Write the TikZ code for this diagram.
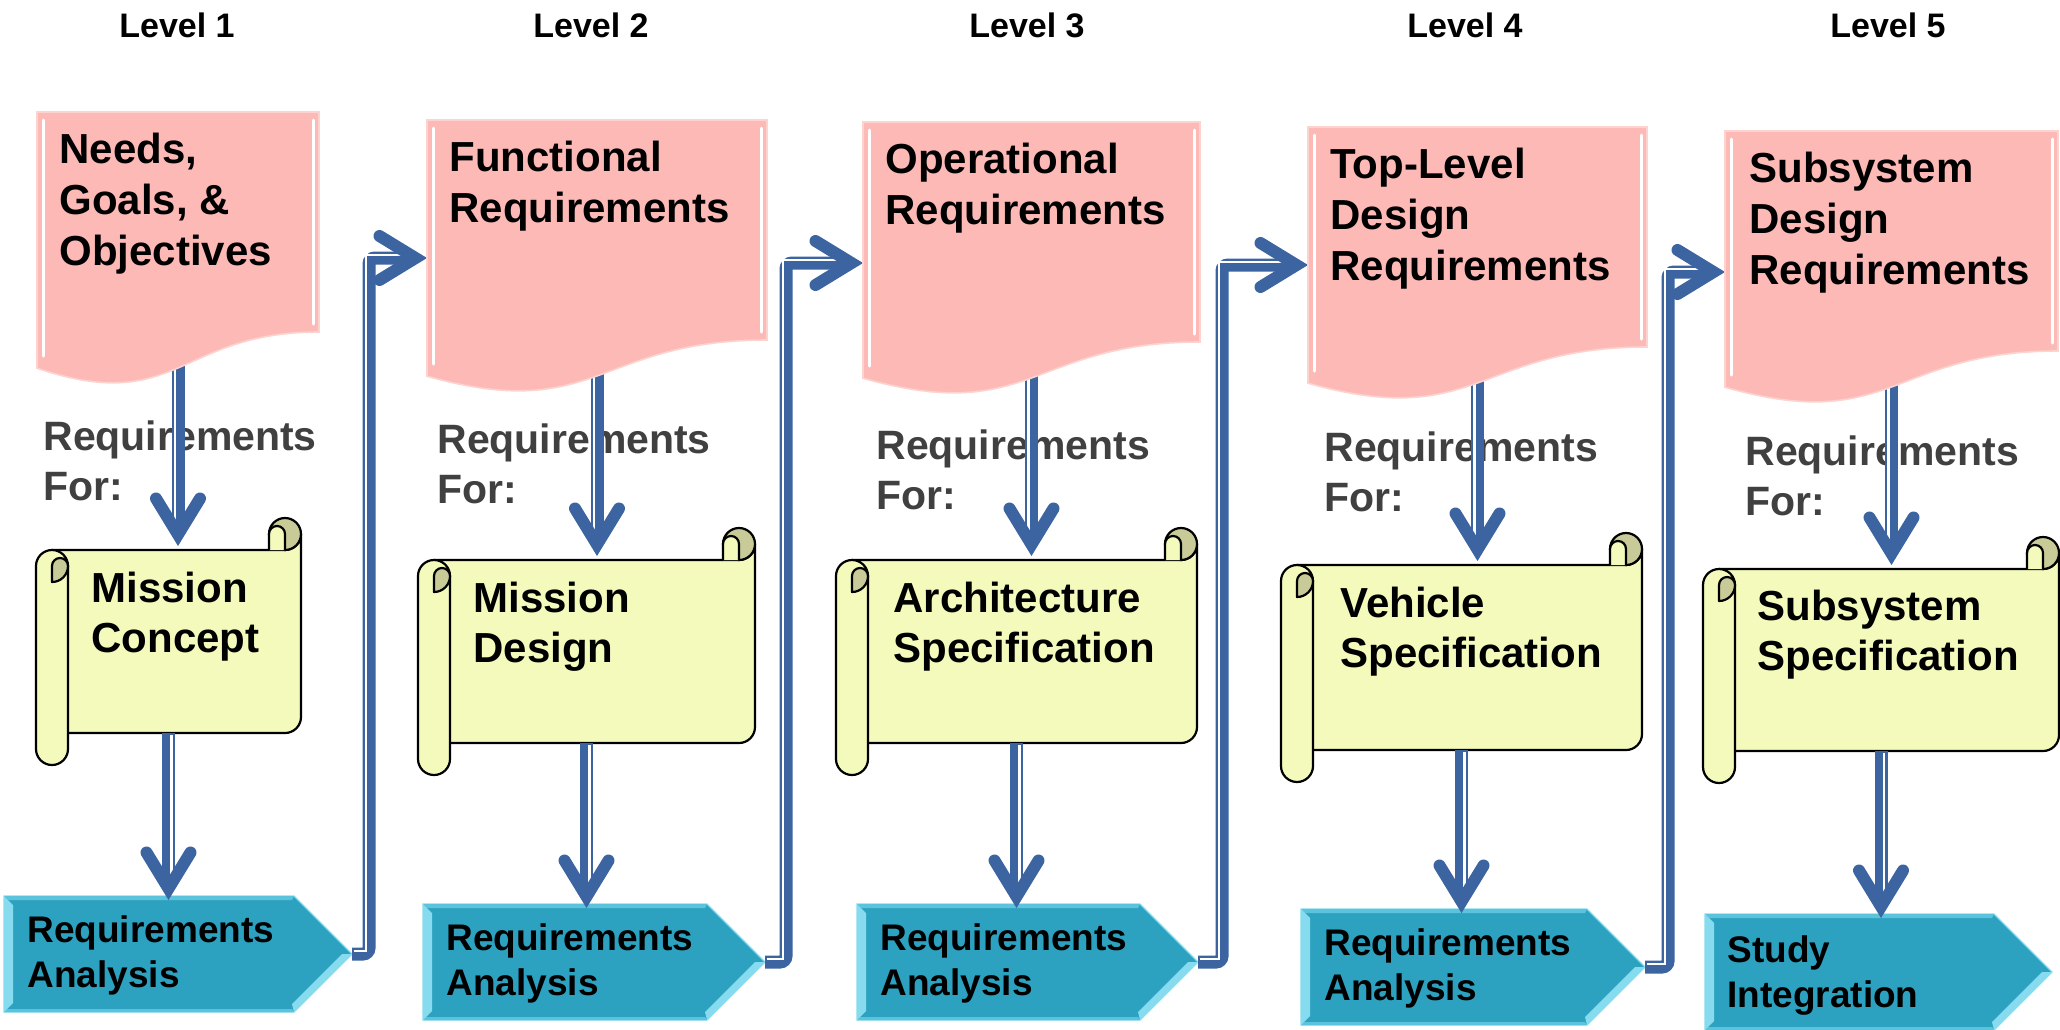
\documentclass[tikz,border=0pt]{standalone}
\usepackage{fontspec}
\setmainfont{Liberation Sans}
\usetikzlibrary{calc,fit}
\definecolor{docpink}{HTML}{FCB9B5}
\definecolor{docedge}{HTML}{FDD3D0}
\definecolor{scrolly}{HTML}{F4FABC}
\definecolor{scrolld}{HTML}{C8CB98}
\definecolor{pentc}{HTML}{2CA2C0}
\definecolor{pentl}{HTML}{86DCEE}
\definecolor{pentt}{HTML}{5CC3DC}
\definecolor{ablue}{HTML}{3B64A1}
\definecolor{greyt}{HTML}{404040}
\tikzset{
 anc/.style={inner sep=0pt, outer sep=0pt, draw=none},
 lvl/.style={font=\bfseries\fontsize{17}{20}\selectfont, anchor=base, inner sep=0pt},
 doct/.style={font=\bfseries\fontsize{21}{25.5}\selectfont, align=left, anchor=base west, inner sep=0pt},
 reqt/.style={font=\bfseries\fontsize{20.5}{25}\selectfont, text=greyt, align=left, anchor=base west, inner sep=0pt},
 scrt/.style={font=\bfseries\fontsize{21}{25}\selectfont, align=left, anchor=base west, inner sep=0pt},
 pentxt/.style={font=\bfseries\fontsize{18.5}{22.5}\selectfont, align=left, anchor=base west, inner sep=0pt},
 shaft/.style={draw=ablue, line width=6.5pt},
 shaftw/.style={draw=white, line width=1.2pt},
 headv/.style={draw=ablue, line width=6pt, line cap=round, line join=miter},
 scrl/.style={draw=black, line width=1.1pt, line join=round},
}
\newcommand\docshape[1]{%
 \filldraw[fill=docpink, draw=docedge, line width=0.8pt] (#1.north west) -- (#1.north east) -- (#1.south east) .. controls (#1.south) and ($(#1.south)+(0,83.8)$) .. ($(#1.south west)+(0,36.2)$) -- cycle;
 \draw[white, line width=1.5pt, line cap=round] ($(#1.north west)+(6,8)$) -- ($(#1.south west)+(6,24)$);
 \draw[white, line width=1.5pt, line cap=round] ($(#1.north east)+(-6,8)$) -- ($(#1.south east)+(-6,-8)$);
}
\newcommand\scrollshape[1]{%
 \filldraw[scrl, fill=scrolly] ($(#1.north west)+(16,0)$) -- ($(#1.north east)+(-16,0)$) arc[start angle=90, end angle=0, radius=16] -- ($(#1.south east)+(0,-16)$) arc[start angle=0, end angle=90, radius=16] -- ($(#1.south west)+(16,0)$) -- cycle;
 \filldraw[scrl, fill=scrolld] ($(#1.north east)+(-16,-16)$) circle[radius=16];
 \filldraw[scrl, fill=scrolly] ($(#1.north east)+(-32,0)$) -- ($(#1.north east)+(-32,-16)$) arc[start angle=180, end angle=360, radius=8] -- ($(#1.north east)+(-16,0)$);
 \filldraw[scrl, fill=scrolly] ($(#1.north west)+(0,16)$) arc[start angle=180, end angle=360, radius=16] -- ($(#1.south west)+(32,16)$) arc[start angle=0, end angle=180, radius=16] -- cycle;
 \filldraw[scrl, fill=scrolld] ($(#1.north west)+(16,32)$) -- ($(#1.north west)+(16,16)$) arc[start angle=180, end angle=360, radius=8] arc[start angle=0, end angle=90, radius=16] -- cycle;
}
\newcommand\pentshape[1]{%
 \filldraw[fill=pentc, draw=pentl, line width=0.6pt] (#1.north west) -- ($(#1.north east)+(-58,0)$) -- (#1.east) -- ($(#1.south east)+(-58,0)$) -- (#1.south west) -- cycle;
 \fill[pentt] (#1.north west) -- ($(#1.north east)+(-58,0)$) -- ($(#1.north east)+(-60,4)$) -- ($(#1.north west)+(4,4)$) -- cycle;
 \fill[pentt] (#1.south west) -- ($(#1.south east)+(-58,0)$) -- ($(#1.south east)+(-60,-3)$) -- ($(#1.south west)+(3,-3)$) -- cycle;
 \fill[pentl] (#1.north west) -- ($(#1.north west)+(9,9)$) -- ($(#1.south west)+(9,-9)$) -- (#1.south west) -- cycle;
 \fill[pentl] ($(#1.south east)+(-58,0)$) -- (#1.east) -- ($(#1.east)+(-10,0)$) -- ($(#1.south east)+(-60,-8)$) -- cycle;
}
\newcommand\headdown[1]{\draw[headv] ($(#1)+(-22,-47.5)$) -- ($(#1)+(0,-11.5)$) -- ($(#1)+(22,-47.5)$);}
\newcommand\headright[1]{\draw[headv] ($(#1)+(-47.5,-22)$) -- ($(#1)+(-11.5,0)$) -- ($(#1)+(-47.5,22)$);}
\begin{document}
\begin{tikzpicture}[x=0.5pt, y=-0.5pt]
\useasboundingbox (0,0) rectangle (2060,1029);
% ---------- anchor nodes ----------
\node[anc, fit={(37,112)(319,332)}] (d1) {};
\node[anc, fit={(427,120)(767,340)}] (d2) {};
\node[anc, fit={(863,122)(1200,342)}] (d3) {};
\node[anc, fit={(1308,127)(1647,347)}] (d4) {};
\node[anc, fit={(1725,131)(2058,351)}] (d5) {};
\node[anc, fit={(36,550)(301,733)}] (s1) {};
\node[anc, fit={(418,560)(755,743)}] (s2) {};
\node[anc, fit={(836,560)(1197,743)}] (s3) {};
\node[anc, fit={(1281,565)(1642,750)}] (s4) {};
\node[anc, fit={(1703,569)(2059,751)}] (s5) {};
\node[anc, fit={(4,896)(352,1012)}] (p1) {};
\node[anc, fit={(423,904)(765,1020)}] (p2) {};
\node[anc, fit={(857,904)(1198,1020)}] (p3) {};
\node[anc, fit={(1301,909)(1645,1025)}] (p4) {};
\node[anc, fit={(1705,914)(2052,1030)}] (p5) {};
% ---------- scrolls and pentagons ----------
\scrollshape{s1}\scrollshape{s2}\scrollshape{s3}\scrollshape{s4}\scrollshape{s5}
\pentshape{p1}\pentshape{p2}\pentshape{p3}\pentshape{p4}\pentshape{p5}
\node[pentxt] (p1t) at ($(p1.north west)+(23,91)$) {Requirements\\Analysis};
\node[pentxt] (p2t) at ($(p2.north west)+(23,91)$) {Requirements\\Analysis};
\node[pentxt] (p3t) at ($(p3.north west)+(23,91)$) {Requirements\\Analysis};
\node[pentxt] (p4t) at ($(p4.north west)+(23,91)$) {Requirements\\Analysis};
\node[pentxt] (p5t) at ($(p5.north west)+(22,93)$) {Study\\Integration};
\node[scrt] (s1t) at ($(s1.north west)+(55,102)$) {Mission\\Concept};
\node[scrt] (s2t) at ($(s2.north west)+(55,102)$) {Mission\\Design};
\node[scrt] (s3t) at ($(s3.north west)+(57,102)$) {Architecture\\Specification};
\node[scrt] (s4t) at ($(s4.north west)+(59,102)$) {Vehicle\\Specification};
\node[scrt] (s5t) at ($(s5.north west)+(54,101)$) {Subsystem\\Specification};
% ---------- "Requirements For:" ----------
\node[reqt] (r1) at (43,500) {Requirements\\For:};
\node[reqt] (r2) at (437,503) {Requirements\\For:};
\node[reqt] (r3) at (876,509) {Requirements\\For:};
\node[reqt] (r4) at (1324,511) {Requirements\\For:};
\node[reqt] (r5) at (1745,515) {Requirements\\For:};
% ---------- vertical arrows ----------
\foreach \i in {1,...,5}{
 \coordinate (a\i) at ($(d\i.south |- s\i.north)+(0,-4)$);
 \draw[shaft] (d\i.south) -- ($(a\i)+(0,-14)$);
 \draw[shaftw] ($(d\i.south)+(-3,0)$) -- ($(a\i)+(-3,-24)$);
 \headdown{a\i}
 \coordinate (b\i) at ($(s\i.south |- p\i.north)+(0,4)$);
 \draw[shaft] (s\i.south) -- ($(b\i)+(0,-14)$);
 \draw[shaftw] ($(s\i.south)+(3,2)$) -- ($(b\i)+(3,-24)$);
 \headdown{b\i}
}
% ---------- level-to-level connectors ----------
\coordinate (c1) at ($(d2.north west)+(0,138)$);
\coordinate (c2) at ($(d3.north west)+(0,141)$);
\coordinate (c3) at ($(d4.north west)+(0,138)$);
\coordinate (c4) at ($(d5.north west)+(0,141)$);
\draw[shaft, rounded corners=3pt] (p1.east) -- ($(p1.east)+(17,0)$) |- ($(c1)+(-14,0)$);
\draw[shaftw] ($(p1.east)+(2,-3)$) -- ($(p1.east)+(14,-3)$) |- ($(c1)+(-24,-3)$);
\headright{c1}
\draw[shaft, rounded corners=3pt] (p2.east) -- ($(p2.east)+(21,0)$) |- ($(c2)+(-14,0)$);
\draw[shaftw] ($(p2.east)+(2,-3)$) -- ($(p2.east)+(18,-3)$) |- ($(c2)+(-24,-3)$);
\headright{c2}
\draw[shaft, rounded corners=3pt] (p3.east) -- ($(p3.east)+(24,0)$) |- ($(c3)+(-14,0)$);
\draw[shaftw] ($(p3.east)+(2,-3)$) -- ($(p3.east)+(21,-3)$) |- ($(c3)+(-24,-3)$);
\headright{c3}
\draw[shaft, rounded corners=3pt] (p4.east) -- ($(p4.east)+(23,0)$) |- ($(c4)+(-14,0)$);
\draw[shaftw] ($(p4.east)+(2,-3)$) -- ($(p4.east)+(20,-3)$) |- ($(c4)+(-24,-3)$);
\headright{c4}
% ---------- documents ----------
\docshape{d1}\docshape{d2}\docshape{d3}\docshape{d4}\docshape{d5}
\node[doct] (d1t) at ($(d1.north west)+(22,153)$) {Needs,\\Goals, \&\\Objectives};
\node[doct] (d2t) at ($(d2.north west)+(22,102)$) {Functional\\Requirements};
\node[doct] (d3t) at ($(d3.north west)+(22,102)$) {Operational\\Requirements};
\node[doct] (d4t) at ($(d4.north west)+(22,153)$) {Top-Level\\Design\\Requirements};
\node[doct] (d5t) at ($(d5.north west)+(24,153)$) {Subsystem\\Design\\Requirements};
% ---------- level labels ----------
\node[lvl] (l1) at (177,37) {Level 1};
\node[lvl] (l2) at (591,37) {Level 2};
\node[lvl] (l3) at (1027,37) {Level 3};
\node[lvl] (l4) at (1465,37) {Level 4};
\node[lvl] (l5) at (1888,37) {Level 5};
\end{tikzpicture}
\end{document}
